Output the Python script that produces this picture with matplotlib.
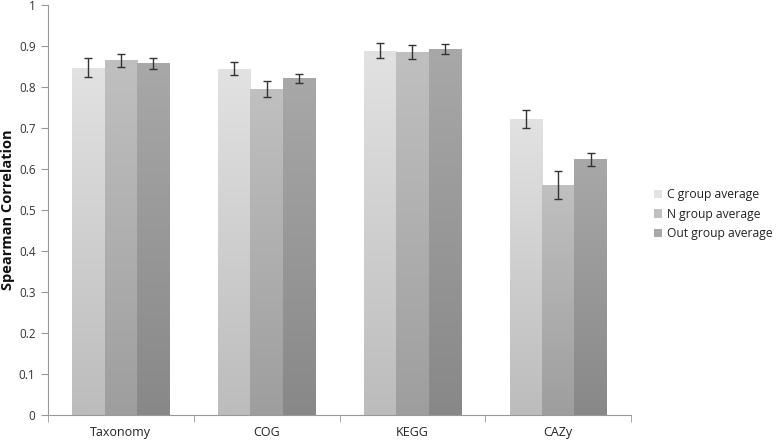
import numpy as np
import matplotlib
matplotlib.use("Agg")
import matplotlib.pyplot as plt
from matplotlib.colors import LinearSegmentedColormap

plt.rcParams['font.family'] = ['Open Sans', 'DejaVu Sans']

categories = ['Taxonomy', 'COG', 'KEGG', 'CAZy']
series = ['C group average', 'N group average', 'Out group average']
c_avg = [0.847, 0.845, 0.889, 0.722]
n_avg = [0.865, 0.795, 0.885, 0.561]
out_avg = [0.858, 0.821, 0.892, 0.624]
c_err = [0.023, 0.015, 0.018, 0.021]
n_err = [0.015, 0.019, 0.017, 0.033]
out_err = [0.013, 0.011, 0.012, 0.016]

values = [c_avg, n_avg, out_avg]
errors = [c_err, n_err, out_err]
# top / bottom shades of the gradient fill
shades = [('#e2e2e2', '#bcbcbc'), ('#c0c0c0', '#9e9e9e'), ('#a8a8a8', '#888888')]

fig = plt.figure(figsize=(7.78, 4.44), dpi=100)
ax = fig.add_axes([0.0617, 0.0653, 0.7494, 0.9234])

x = np.arange(len(categories))
w = 1 / 4.5
for i, (vals, errs, (top, bot)) in enumerate(zip(values, errors, shades)):
    pos = x + (i - 1) * w
    bars = ax.bar(pos, vals, width=w, color=top, label=series[i], zorder=2)
    cmap = LinearSegmentedColormap.from_list('g%d' % i, [bot, top])
    grad = np.linspace(0, 1, 256).reshape(-1, 1)
    for b in bars:
        im = ax.imshow(grad, cmap=cmap, aspect='auto', origin='lower',
                       extent=[b.get_x(), b.get_x() + b.get_width(), 0, b.get_height()],
                       zorder=2.5)
        im.set_clip_path(b)
    ax.errorbar(pos, vals, yerr=errs, fmt='none', ecolor='#333333',
                elinewidth=1, capsize=3, capthick=1, zorder=3)

ax.set_xlim(-0.5, len(categories) - 0.5)
ax.set_ylim(0, 1)
ax.set_yticks(np.arange(0, 1.01, 0.1))
ax.set_yticklabels(['0'] + ['%.1f' % v for v in np.arange(0.1, 0.95, 0.1)] + ['1'])
ax.set_xticks(x)
ax.set_xticklabels(categories)
ax.set_xticks(np.arange(-0.5, len(categories)), minor=True)
ax.tick_params(axis='x', which='major', length=0, pad=8, labelsize=9, labelcolor='#222222')
ax.tick_params(axis='x', which='minor', length=5, color='#999999')
ax.tick_params(axis='y', length=5, color='#999999', labelsize=8.5, labelcolor='#333333', pad=4)

for s in ['top', 'right']:
    ax.spines[s].set_visible(False)
for s in ['left', 'bottom']:
    ax.spines[s].set_color('#999999')
    ax.spines[s].set_linewidth(0.8)

ax.set_ylabel('Spearman Correlation', fontsize=10.5, fontweight='bold', color='#111111', labelpad=3)

leg = ax.legend(loc='center left', bbox_to_anchor=(1.02, 0.49), frameon=False,
                fontsize=8.7, handlelength=0.7, handleheight=0.7, handletextpad=0.4,
                labelspacing=0.55, labelcolor='#222222')

fig.savefig('out.png', dpi=100)
